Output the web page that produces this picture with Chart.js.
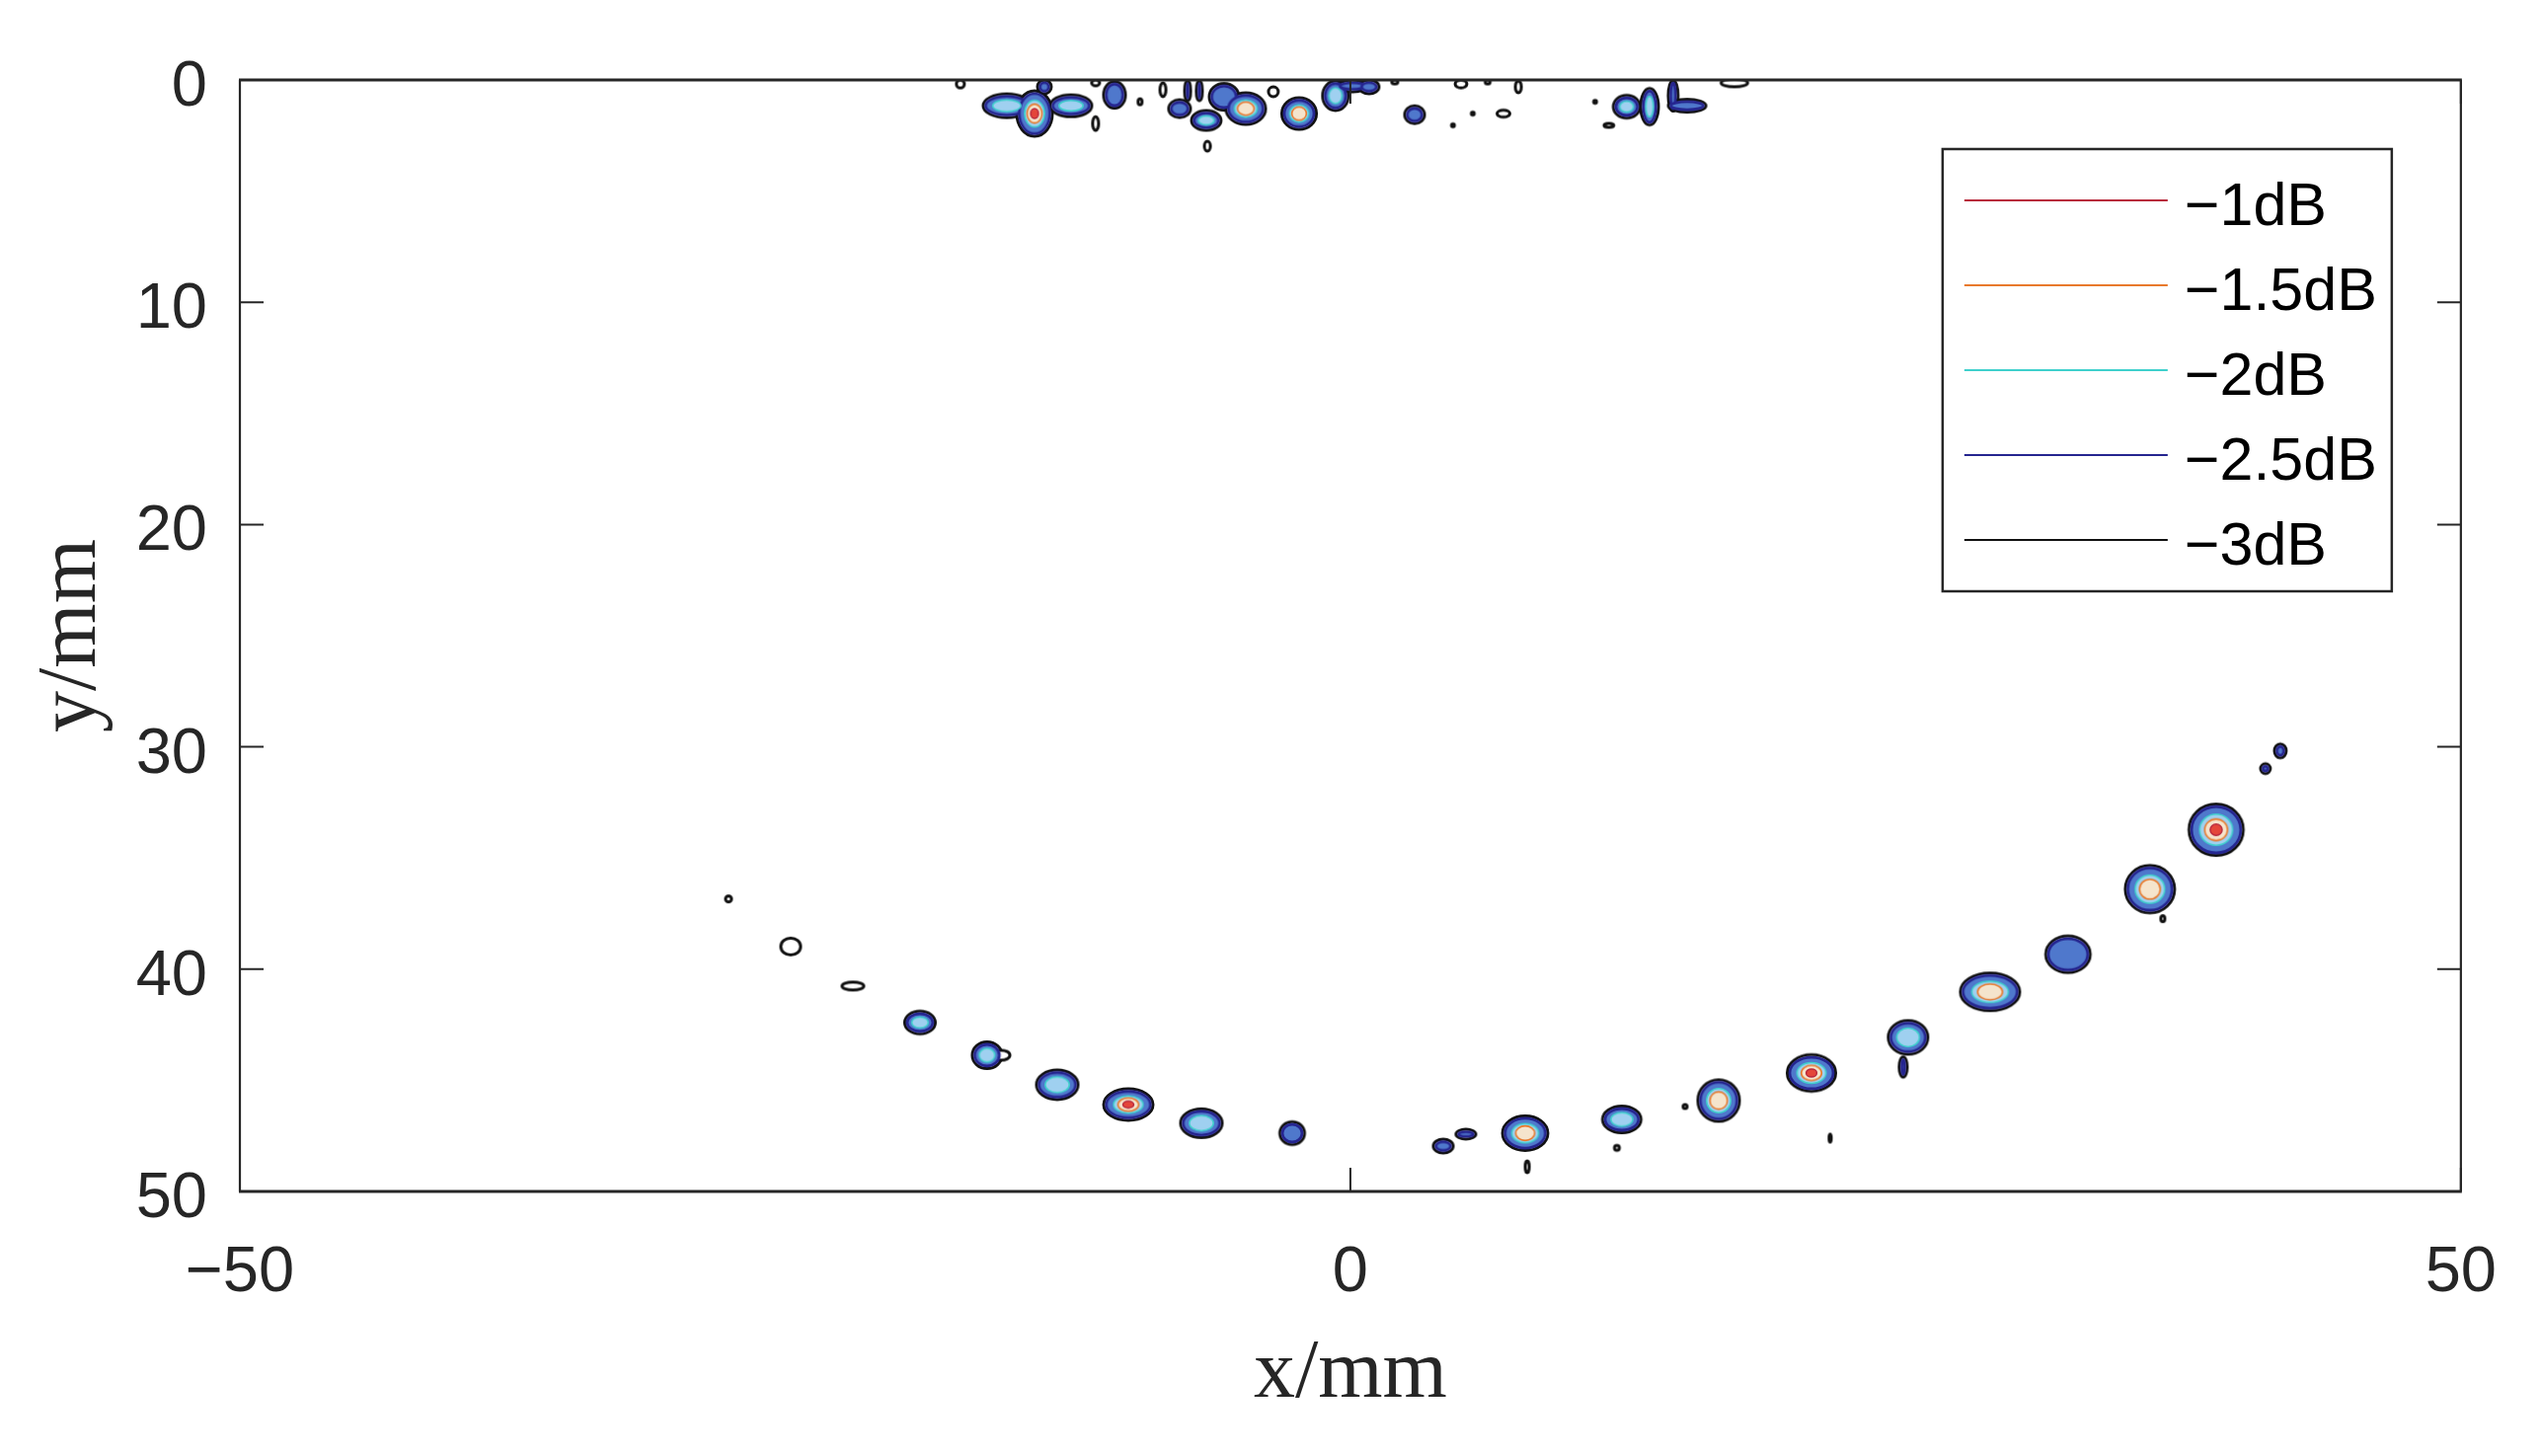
<!DOCTYPE html>
<html><head><meta charset="utf-8">
<script src="https://cdn.jsdelivr.net/npm/chart.js@4.4.1/dist/chart.umd.min.js"></script>
<style>html,body{margin:0;padding:0;background:#fff;}#wrap{width:2573px;height:1475px;}canvas{display:block;}</style>
</head><body><div id="wrap"><canvas id="c" width="2573" height="1475"></canvas></div>
<script>
// contour levels (legend order)
const levelLabels = ['\u22121dB', '\u22121.5dB', '\u22122dB', '\u22122.5dB', '\u22123dB'];
const levelColors = ['#b8283c', '#e8792c', '#3fd0cc', '#25258f', '#111111'];
const xTicks = [-50, 0, 50];
const yTicks = [0, 10, 20, 30, 40, 50];

// contour blobs: centre x, centre y, width, height (mm)
// blobPeak = number of contour levels reached (1 = only -3dB ... 5 = down to -1dB)
const blobX = [-28.0, -25.2, -22.4, -19.38, -16.36, -15.73, -13.2, -10.0, -6.71, -2.62,
  4.18, 5.2, 7.87, 12.22, 16.58, 20.76, 25.11, 24.89, 28.8, 32.31, 36.0, 38.98, 41.87, 41.2,
  7.96, 12.0, 15.07, 21.6, 36.58,
  -15.47, -14.22, -12.58, -13.78, -17.56, -11.47, -11.47, -10.62, -9.47, -8.44,
  -7.69, -6.49, -7.33, -6.8, -6.44, -5.69, -4.71, -3.47, -2.31, -0.67,
  0.09, 0.84, 2.89, 6.89, 4.98, 7.56, 2.0, 6.18, 5.51, 4.62,
  12.44, 13.47, 14.53, 15.16, 17.29, 11.64, 11.02];
const blobY = [36.84, 38.98, 40.76, 42.4, 43.87, 43.87, 45.2, 46.09, 46.93, 47.38,
  47.96, 47.42, 47.38, 46.76, 45.91, 44.67, 43.07, 44.4, 41.02, 39.33, 36.4, 33.73, 30.18, 30.98,
  48.89, 48.04, 46.18, 47.6, 37.73,
  1.16, 1.51, 1.16, 0.31, 0.18, 1.96, 0.13, 0.67, 0.98, 0.44,
  1.29, 1.82, 0.49, 0.49, 2.98, 0.76, 1.29, 0.53, 1.51, 0.71,
  0.27, 0.31, 1.56, 1.51, 0.18, 0.31, 0.09, 0.09, 1.51, 2.04,
  1.2, 1.2, 0.71, 1.16, 0.13, 2.04, 0.98];
const blobW = [0.27, 0.89, 0.98, 1.38, 1.33, 0.8, 1.87, 2.22, 1.87, 1.11,
  0.89, 0.89, 2.04, 1.73, 1.87, 2.18, 1.78, 0.36, 2.67, 2.0, 2.22, 2.44, 0.53, 0.44,
  0.18, 0.22, 0.18, 0.1, 0.18,
  2.13, 1.6, 1.87, 0.62, 0.36, 0.27, 0.36, 0.98, 0.18, 0.27,
  0.98, 1.33, 0.27, 0.27, 0.27, 1.33, 1.78, 0.44, 1.56, 1.16,
  1.33, 0.89, 0.89, 0.58, 0.53, 0.27, 0.27, 0.22, 0.13, 0.13,
  1.2, 0.8, 0.44, 1.69, 1.2, 0.44, 0.13];
const blobH = [0.27, 0.76, 0.36, 1.02, 1.2, 0.45, 1.33, 1.42, 1.29, 1.02,
  0.62, 0.44, 1.56, 1.2, 1.87, 1.64, 1.51, 0.9, 1.69, 1.64, 2.13, 2.31, 0.62, 0.44,
  0.53, 0.22, 0.18, 0.36, 0.27,
  1.07, 2.04, 0.98, 0.62, 0.36, 0.62, 0.27, 1.2, 0.27, 0.62,
  0.8, 0.89, 0.89, 0.89, 0.44, 1.2, 1.42, 0.44, 1.42, 1.33,
  0.53, 0.62, 0.8, 0.31, 0.36, 0.53, 0.18, 0.18, 0.13, 0.13,
  1.02, 1.64, 1.38, 0.58, 0.36, 0.18, 0.13];
const blobPeak = [1, 1, 1, 3, 3, 1, 3, 5, 3, 2,
  2, 2, 4, 3, 4, 5, 3, 2, 4, 2, 4, 5, 2, 2,
  1, 1, 1, 1, 1,
  3, 5, 3, 2, 1, 1, 1, 2, 1, 1,
  2, 3, 2, 2, 1, 2, 4, 1, 4, 3,
  2, 2, 2, 1, 1, 1, 1, 1, 1, 1,
  3, 3, 2, 2, 1, 1, 1];

// drawing style per level (index 0 = -1dB ... 4 = -3dB)
const levelFill = ['#e4463a', '#f5e4cc', '#9fd0f0', '#4f78cc', '#ffffff'];
const levelScale = [0.22, 0.42, 0.7, 1.0, 1.0];
const levelInset = [0, 0, 5, 5, 0];
const levelLine = [1.5, 1.6, 1.5, 2.8, 3.0];

function sprite(wPx, hPx, stroke, fill, lw) {
  const c = document.createElement('canvas');
  const W = Math.ceil(wPx + lw * 2 + 2), H = Math.ceil(hPx + lw * 2 + 2);
  c.width = W; c.height = H;
  const g = c.getContext('2d');
  g.beginPath();
  g.ellipse(W / 2, H / 2, Math.max(wPx / 2, 0.6), Math.max(hPx / 2, 0.6), 0, 0, Math.PI * 2);
  g.fillStyle = fill; g.fill();
  g.lineWidth = lw; g.strokeStyle = stroke; g.stroke();
  return c;
}

const datasets = levelLabels.map((label, L) => {
  const need = 5 - L;
  const data = [];
  blobX.forEach((x, i) => {
    if (blobPeak[i] >= need) data.push({ x: x, y: blobY[i], w: blobW[i], h: blobH[i] });
  });
  return {
    label: label,
    data: data,
    borderColor: levelColors[L],
    backgroundColor: levelFill[L],
    showLine: false,
    pointRadius: 1,
    pointStyle: (ctx) => {
      const r = ctx.raw; if (!r) return 'circle';
      const xs = ctx.chart.scales.x, ys = ctx.chart.scales.y;
      const wPx = Math.abs(xs.getPixelForValue(r.x + r.w / 2) - xs.getPixelForValue(r.x - r.w / 2));
      const hPx = Math.abs(ys.getPixelForValue(r.y + r.h / 2) - ys.getPixelForValue(r.y - r.h / 2));
      const w = Math.max(wPx * levelScale[L] - levelInset[L], 1);
      const h = Math.max(hPx * levelScale[L] - levelInset[L], 1);
      return sprite(w, h, levelColors[L], levelFill[L], levelLine[L]);
    }
  };
});

const framePlugin = {
  id: 'frame',
  afterDatasetsDraw(chart) {
    const { ctx, chartArea: a, scales: { x, y } } = chart;
    ctx.save();
    ctx.strokeStyle = '#262626';
    ctx.lineWidth = 2;
    ctx.beginPath();
    x.ticks.forEach(t => {
      const p = x.getPixelForValue(t.value);
      ctx.moveTo(p, a.bottom); ctx.lineTo(p, a.bottom - 24);
      ctx.moveTo(p, a.top); ctx.lineTo(p, a.top + 24);
    });
    y.ticks.forEach(t => {
      const p = y.getPixelForValue(t.value);
      ctx.moveTo(a.left, p); ctx.lineTo(a.left + 24, p);
      ctx.moveTo(a.right, p); ctx.lineTo(a.right - 24, p);
    });
    ctx.stroke();
    ctx.lineWidth = 2.2;
    ctx.beginPath();
    ctx.moveTo(a.left, a.top); ctx.lineTo(a.left, a.bottom);
    ctx.moveTo(a.right, a.top); ctx.lineTo(a.right, a.bottom);
    ctx.stroke();
    ctx.lineWidth = 3.2;
    ctx.beginPath();
    ctx.moveTo(a.left - 1, a.top); ctx.lineTo(a.right + 1, a.top);
    ctx.moveTo(a.left - 1, a.bottom); ctx.lineTo(a.right + 1, a.bottom);
    ctx.stroke();
    ctx.restore();
  }
};

const legendPlugin = {
  id: 'boxLegend',
  afterDraw(chart) {
    const { ctx, chartArea: a } = chart;
    const bw = 455, bh = 448;
    const bx = a.right - 70 - bw, by = a.top + 70;
    ctx.save();
    ctx.fillStyle = '#ffffff';
    ctx.fillRect(bx, by, bw, bh);
    ctx.strokeStyle = '#262626';
    ctx.lineWidth = 2.5;
    ctx.strokeRect(bx, by, bw, bh);
    ctx.font = '61px "Liberation Sans", Arial, sans-serif';
    ctx.textBaseline = 'middle';
    ctx.textAlign = 'left';
    chart.data.datasets.forEach((ds, i) => {
      const ry = by + 52 + i * 86;
      ctx.strokeStyle = ds.borderColor;
      ctx.lineWidth = 2.2;
      ctx.beginPath(); ctx.moveTo(bx + 22, ry); ctx.lineTo(bx + 228, ry); ctx.stroke();
      ctx.fillStyle = '#000000';
      ctx.fillText(ds.label, bx + 245, ry + 8);
    });
    ctx.restore();
  }
};

const tickFont = { family: '"Liberation Sans", Arial, sans-serif', size: 65 };
const titleFont = { family: '"Liberation Serif", "Times New Roman", serif', size: 84 };

new Chart(document.getElementById('c'), {
  type: 'scatter',
  data: { datasets: datasets },
  options: {
    responsive: false,
    animation: false,
    events: [],
    layout: { padding: { top: 81, right: 78, bottom: 0, left: 0 } },
    plugins: { legend: { display: false }, tooltip: { enabled: false } },
    scales: {
      x: {
        type: 'linear', min: -50, max: 50,
        afterBuildTicks: s => { s.ticks = xTicks.map(v => ({ value: v })); },
        afterFit: s => { s.height = 268; },
        grid: { display: false, drawTicks: false },
        border: { display: false },
        ticks: { font: tickFont, color: '#262626', padding: 44, maxRotation: 0,
          callback: v => v < 0 ? '\u2212' + Math.abs(v) : String(v) },
        title: { display: true, text: 'x/mm', font: titleFont, color: '#262626', padding: { top: 0, bottom: 32 } }
      },
      y: {
        type: 'linear', min: 0, max: 50, reverse: true,
        afterBuildTicks: s => { s.ticks = yTicks.map(v => ({ value: v })); },
        afterFit: s => { s.width = 243; },
        grid: { display: false, drawTicks: false },
        border: { display: false },
        ticks: { font: tickFont, color: '#262626', padding: 33, labelOffset: 8 },
        title: { display: true, text: 'y/mm', font: titleFont, color: '#262626', padding: { top: 24, bottom: 0 } }
      }
    }
  },
  plugins: [framePlugin, legendPlugin]
});
</script>
</body></html>
